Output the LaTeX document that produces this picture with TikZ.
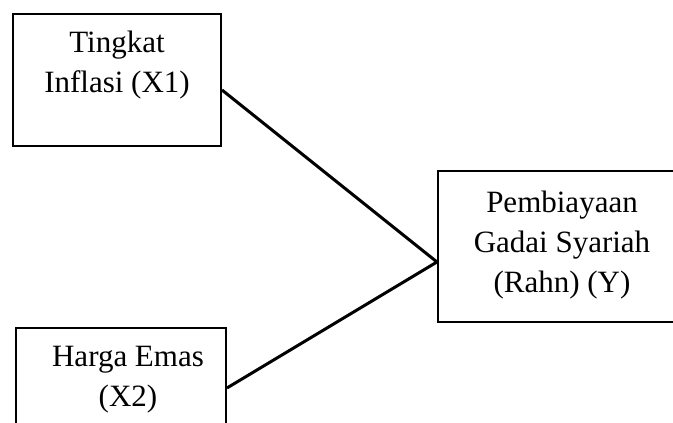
\documentclass[tikz,border=0pt]{standalone}
\usepackage{fontspec}
\setmainfont{Liberation Serif}
\usetikzlibrary{positioning}

\begin{document}
\begin{tikzpicture}[
  x=1pt, y=1pt,
  varbox/.style={rectangle, draw, line width=2pt, inner sep=0pt},
  lbl/.style={align=center, inner sep=0pt, font=\fontsize{31}{40}\selectfont},
  line/.style={draw, line width=3pt}
]
\useasboundingbox (0,0) rectangle (673,423);
% Nodes
\node[varbox, minimum width=208pt, minimum height=132pt] (x1box) at (117,343) {};
\node[lbl, below=18pt of x1box.north] (x1) {Tingkat\\Inflasi (X1)};
\node[varbox, minimum width=300pt, minimum height=151pt, anchor=west] (ybox) at (437,176.5) {};
\node[lbl, anchor=north] (y) at ([xshift=125pt, yshift=-21pt]ybox.north west) {Pembiayaan\\Gadai Syariah\\(Rahn) (Y)};
\node[varbox, minimum width=210pt, minimum height=120pt] (x2box) at (121,35) {};
\node[lbl, below=19pt of x2box.north, xshift=7pt] (x2) {Harga Emas\\(X2)};
\coordinate (yin) at ([yshift=-15.5pt]ybox.west);
% Edges
\path[line] ([yshift=-10pt]x1box.east) -- (yin);
\path[line] (x2box.east) -- (yin);
\end{tikzpicture}
\end{document}
